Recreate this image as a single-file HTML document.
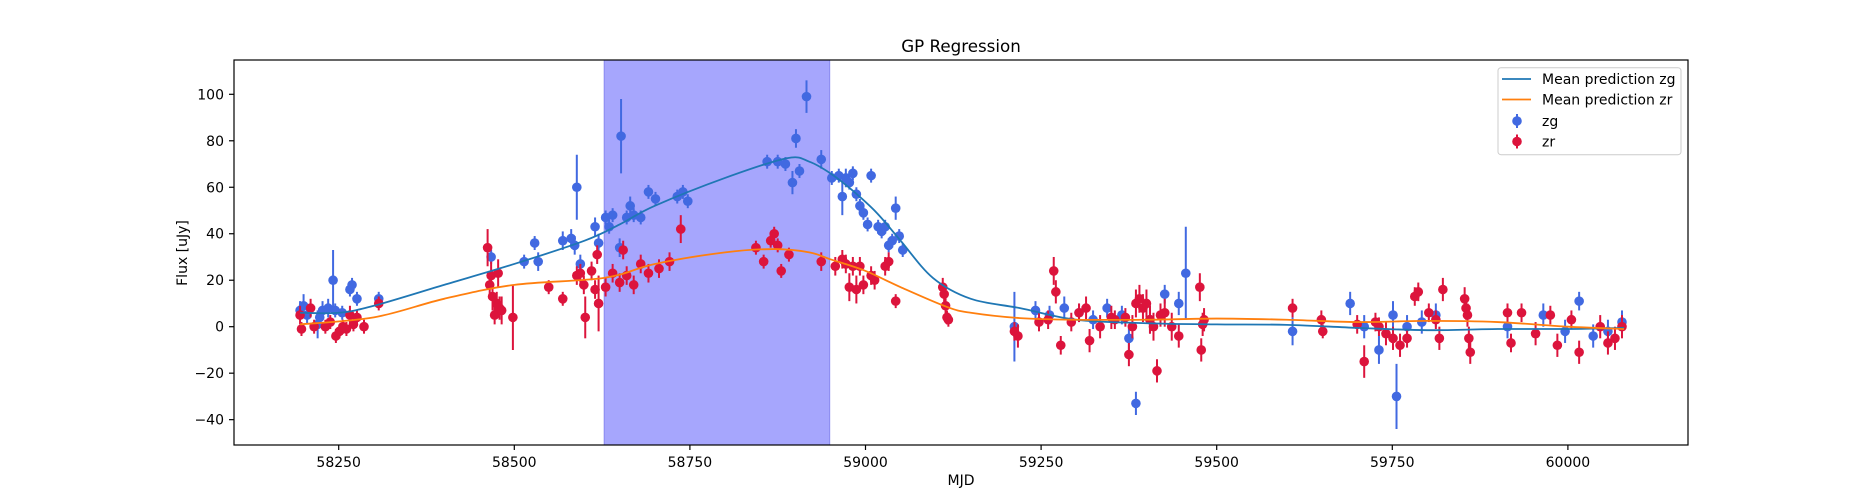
<!DOCTYPE html>
<html><head><meta charset="utf-8"><style>
body{margin:0;background:#fff;}
svg{display:block;font-family:"DejaVu Sans","Liberation Sans",sans-serif;}
</style></head><body>
<svg id="chart" width="1875" height="500">
<rect width="1875" height="500" fill="#fff"/>
<g id="plot"></g>
</svg>
<script>
const zgMjd=[58195,58200,58205,58220,58223,58227,58235,58242,58245,58255,58266,58269,58276,58307,58467,58514,58529,58534,58569,58581,58586,58589,58594,58615,58620,58630,58635,58640,58650,58652,58660,58665,58670,58680,58691,58701,58732,58740,58747,58860,58875,58886,58896,58901,58906,58916,58937,58952,58962,58967,58972,58977,58982,58987,58992,58997,59003,59008,59018,59023,59028,59033,59038,59043,59048,59053,59212,59242,59262,59283,59304,59324,59344,59365,59375,59385,59405,59426,59446,59456,59608,59690,59710,59731,59751,59756,59771,59792,59812,59914,59965,59996,60016,60036,60057,60077];
const zgFlux=[7,9,5,1,4,7,8,20,7,6,16,18,12,12,30,28,36,28,37,38,35,60,27,43,36,47,43,48,34,82,47,52,48,47,58,55,56,58,54,71,71,70,62,81,67,99,72,64,65,56,64,62,66,57,52,49,44,65,43,41,43,35,37,51,39,33,0,7,5,8,6,3,8,5,-5,-33,3,14,10,23,-2,10,0,-10,5,-30,0,2,5,0,5,-2,11,-4,-2,2];
const zgErr=[4,5,4,6,4,4,4,13,3,3,3,3,3,3,3,3,3,4,4,4,4,14,4,4,4,3,3,3,4,16,3,4,3,3,3,3,3,3,3,3,3,3,5,4,3,7,4,3,3,8,4,3,3,3,3,3,3,3,3,3,3,3,3,5,3,3,15,4,4,5,4,4,4,4,6,5,6,4,5,20,6,5,5,6,6,14,5,5,5,5,5,5,4,5,5,5];
const zrMjd=[58195,58197,58210,58215,58231,58238,58246,58251,58256,58261,58266,58271,58276,58286,58307,58462,58465,58467,58469,58472,58475,58477,58479,58482,58498,58549,58569,58589,58594,58599,58601,58610,58615,58618,58620,58630,58640,58650,58655,58660,58670,58680,58691,58706,58721,58737,58844,58855,58865,58870,58875,58880,58891,58937,58957,58967,58972,58977,58982,58987,58992,58997,59008,59013,59028,59033,59043,59110,59112,59114,59116,59118,59212,59217,59247,59260,59268,59271,59278,59293,59304,59314,59319,59334,59350,59355,59370,59375,59380,59385,59390,59395,59400,59405,59410,59415,59420,59426,59436,59446,59476,59478,59480,59482,59608,59649,59651,59700,59710,59726,59731,59741,59751,59761,59771,59782,59787,59802,59812,59817,59822,59853,59855,59857,59859,59861,59914,59919,59934,59954,59975,59985,60005,60016,60046,60057,60067,60077];
const zrFlux=[5,-1,8,0,0,2,-4,-2,0,-1,5,1,4,0,10,34,18,22,13,5,10,23,8,7,4,17,12,22,23,18,4,24,16,31,10,17,23,19,33,22,18,27,23,25,28,42,34,28,37,40,35,24,31,28,26,29,27,17,26,16,26,18,22,20,26,28,11,17,14,9,4,3,-2,-4,2,3,24,15,-8,2,6,8,-6,0,4,3,4,-12,0,10,12,8,10,3,0,-19,5,6,0,-4,17,-10,1,3,8,3,-2,1,-15,2,0,-3,-5,-8,-5,13,15,6,3,-5,16,12,8,5,-5,-11,6,-7,6,-3,5,-8,3,-11,0,-7,-5,0];
const zrErr=[4,3,4,3,3,3,3,3,3,3,4,3,3,3,3,8,6,6,6,4,5,6,5,6,14,3,3,4,4,4,9,4,4,4,12,4,4,4,4,4,4,4,4,4,4,6,3,3,3,3,3,3,3,4,4,4,4,6,4,6,4,4,4,4,4,4,3,4,4,4,3,3,4,5,4,4,6,5,4,4,4,5,5,5,5,4,4,5,5,6,6,6,6,6,6,5,5,6,6,5,6,5,5,5,4,4,3,4,7,4,4,5,5,5,4,4,4,4,4,5,5,5,5,5,5,5,4,4,4,5,4,5,4,5,5,5,5,5];
const gpMjd=[58195,58250,58300,58400,58500,58600,58650,58700,58800,58888,58920,58950,58980,59016,59050,59096,59150,59220,59300,59400,59500,59600,59700,59800,59900,60000,60080];
const gpZg=[6,6,9,18,27,37,44,52,64,72.5,71,66,59,49,37,21,12,8,3,1.5,1,0.8,-0.5,-1.5,-1,-1,-0.5];
const gpZrMjd=[58195,58300,58400,58500,58628,58700,58800,58870,58920,58950,59000,59050,59116,59150,59220,59300,59400,59500,59600,59700,59800,59900,60000,60080];
const gpZr=[1,4,12,18,21,27,32,33.4,32,29,24,17,8.5,6,3.7,3,3,3.5,3,2,2.5,2,0,-1];
const xTicks=[58250,58500,58750,59000,59250,59500,59750,60000];
const yTicks=[-40,-20,0,20,40,60,80,100];
const shadeRange=[58628,58949];

const L=234,R=1688,T=60,B=445;
const xs=m=>338.7+(m-58250)*175.6/250;
const ys=v=>326.7-v*2.324;
const NS='http://www.w3.org/2000/svg';
const g=document.getElementById('plot');
function mk(tag,at,parent){const e=document.createElementNS(NS,tag);for(const k in at)e.setAttribute(k,at[k]);(parent||g).appendChild(e);return e;}

const sh=mk('rect',{x:xs(shadeRange[0]),y:T,width:xs(shadeRange[1])-xs(shadeRange[0]),height:B-T,fill:'#a6a6fd',stroke:'#8a8af0'});



function drawPts(mj,fl,er,col,name){
  const grp=mk('g',{});
  
  
  for(let i=0;i<mj.length;i++){
    const x=xs(mj[i]);
    const l=mk('line',{x1:x,x2:x,y1:ys(fl[i]-er[i]),y2:ys(fl[i]+er[i]),stroke:col,'stroke-width':2},grp);
    
    
    const c=mk('circle',{cx:x,cy:ys(fl[i]),r:4.8,fill:col},grp);
    
    
  }
}
function drawLine(mj,v,col,name){
  let d='';
  const P=i=>[xs(mj[Math.max(0,Math.min(mj.length-1,i))]),ys(v[Math.max(0,Math.min(mj.length-1,i))])];
  for(let i=0;i<mj.length;i++){
    const p1=P(i);
    if(i===0){d='M'+p1[0]+' '+p1[1];continue;}
    const pm=P(i-1),pp=P(i-2),pn=P(i+1);
    const c1=[pm[0]+(p1[0]-pp[0])/6,pm[1]+(p1[1]-pp[1])/6];
    const c2=[p1[0]-(pn[0]-pm[0])/6,p1[1]-(pn[1]-pm[1])/6];
    d+=` C${c1[0]} ${c1[1]} ${c2[0]} ${c2[1]} ${p1[0]} ${p1[1]}`;
  }
  const p=mk('path',{d:d,fill:'none',stroke:col,'stroke-width':1.8});
  
  
}
drawPts(zgMjd,zgFlux,zgErr,'#4169e1','zg');
drawPts(zrMjd,zrFlux,zrErr,'#dc143c','zr');
drawLine(gpMjd,gpZg,'#1f77b4','mean-line-zg');
drawLine(gpZrMjd,gpZr,'#ff7f0e','mean-line-zr');

const fr=mk('rect',{x:L,y:T,width:R-L,height:B-T,fill:'none',stroke:'#000','stroke-width':1.2});


xTicks.forEach(t=>{
  const x=xs(t);
  mk('line',{x1:x,x2:x,y1:B,y2:B+5,stroke:'#000','stroke-width':1.2});
  const tx=mk('text',{x:x,y:B+22,'text-anchor':'middle','font-size':14});
  tx.textContent=t;
  
  
});
yTicks.forEach(t=>{
  const y=ys(t);
  mk('line',{x1:L-5,x2:L,y1:y,y2:y,stroke:'#000','stroke-width':1.2});
  const tx=mk('text',{x:L-10,y:y+5,'text-anchor':'end','font-size':14});
  tx.textContent=t===0?'0':(t<0?'\u2212'+(-t):t);
  
  
});
const ti=mk('text',{x:961,y:52,'text-anchor':'middle','font-size':16.7});
ti.textContent='GP Regression';


const xl=mk('text',{x:961,y:485,'text-anchor':'middle','font-size':14});
xl.textContent='MJD';


const yl=mk('text',{x:0,y:0,'text-anchor':'middle','font-size':14,transform:'translate(187,253) rotate(-90)'});
yl.textContent='Flux [uJy]';



const lg=mk('g',{});


mk('rect',{x:1498,y:67.7,width:183,height:87,rx:3,fill:'#fff','fill-opacity':0.8,stroke:'#ccc'},lg);
const items=[['line','#1f77b4','Mean prediction zg',79],['line','#ff7f0e','Mean prediction zr',99.5],['pt','#4169e1','zg',121],['pt','#dc143c','zr',141.5]];
items.forEach(it=>{
  const e=mk('g',{},lg);
  
  
  if(it[0]==='line') mk('line',{x1:1502,x2:1531,y1:it[3],y2:it[3],stroke:it[1],'stroke-width':1.8},e);
  else{mk('line',{x1:1517,x2:1517,y1:it[3]-7,y2:it[3]+7,stroke:it[1],'stroke-width':2},e);mk('circle',{cx:1517,cy:it[3],r:4.8,fill:it[1]},e);}
  const t=mk('text',{x:1542,y:it[3]+5,'font-size':14},e);
  t.textContent=it[2];
});
</script>
</body></html>
